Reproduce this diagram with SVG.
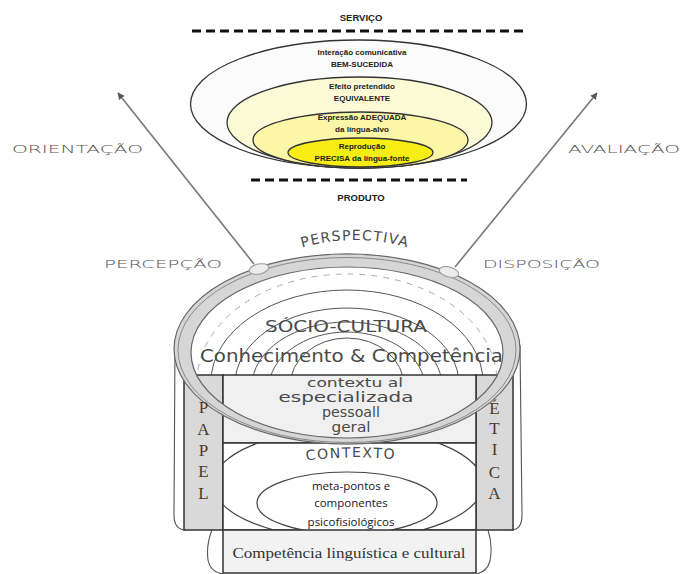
<svg xmlns="http://www.w3.org/2000/svg" width="681" height="574" viewBox="0 0 681 574">
  <defs>
    <style>
      .lvl { stroke: #333; stroke-width: 1.3; }
      .tiny { font-family: "Liberation Sans", Arial, sans-serif; font-size: 8px; font-weight: bold; fill: #222; text-anchor: middle; }
      .cap { font-family: "Liberation Sans", Arial, sans-serif; font-size: 9.5px; font-weight: bold; fill: #222; text-anchor: middle; }
      .dash { stroke: #111; stroke-width: 3; stroke-dasharray: 9 5; fill: none; }
      .side { font-family: "DejaVu Sans", "Liberation Sans", sans-serif; font-size: 11px; font-weight: 300; fill: #555; }
      .geo { font-family: "DejaVu Sans", "Liberation Sans", sans-serif; fill: #4a4a4a; text-anchor: middle; }
      .col { font-family: "Liberation Serif", "Times New Roman", serif; font-size: 17px; fill: #4a3a2c; text-anchor: middle; }
      .calib { font-family: "Open Sans", "Liberation Sans", sans-serif; font-size: 11.5px; fill: #111827; text-anchor: middle; }
      .ringline { fill: none; stroke: #555; stroke-width: 1; }
      .body { stroke: #333; stroke-width: 1.5; }
      .outline { fill: none; stroke: #555; stroke-width: 1.1; }
      .arrow { fill: none; stroke: #777; stroke-width: 1.6; marker-end: url(#head); }
    </style>
    <marker id="head" viewBox="0 0 10 10" refX="9" refY="5" markerWidth="7" markerHeight="7" orient="auto" markerUnits="userSpaceOnUse">
      <path d="M0,0 L10,5 L0,10 z" fill="#555"/>
    </marker>
    <clipPath id="lowerArea">
      <rect x="223" y="443" width="253" height="87"/>
    </clipPath>
    <path id="perspArc" d="M283,254 Q355,226 427,254"/>
    <path id="contextArc" d="M290,463 Q350,453 412,461"/>
  </defs>

  <rect width="681" height="574" fill="#fff"/>

  <!-- service / product levels -->
  <g id="levels">
    <text class="cap" x="361" y="20.5" font-size="9px">SERVIÇO</text>
    <line class="dash" x1="192" y1="31" x2="527" y2="31"/>
    <ellipse class="lvl" cx="358.5" cy="104" rx="168" ry="64" fill="#fbfbfb"/>
    <ellipse class="lvl" cx="359.5" cy="122.5" rx="132.5" ry="45.5" fill="#fdfbd6"/>
    <ellipse class="lvl" cx="360.5" cy="140" rx="107.5" ry="28" fill="#fbf6a8"/>
    <ellipse class="lvl" cx="360.5" cy="152.5" rx="72.5" ry="14.5" fill="#f6ee12"/>
    <text class="tiny" x="362" y="55" font-weight="normal">Interação comunicativa</text>
    <text class="tiny" x="362" y="66.5">BEM-SUCEDIDA</text>
    <text class="tiny" x="362" y="89" font-weight="normal">Efeito pretendido</text>
    <text class="tiny" x="362" y="101">EQUIVALENTE</text>
    <text class="tiny" x="362" y="120">Expressão ADEQUADA</text>
    <text class="tiny" x="362" y="131.5">da língua-alvo</text>
    <text class="tiny" x="362" y="149">Reprodução</text>
    <text class="tiny" x="362" y="160.5">PRECISA da língua-fonte</text>
    <line class="dash" x1="251" y1="180" x2="467" y2="180"/>
    <text class="cap" x="361" y="201">PRODUTO</text>
  </g>

  <!-- connectors -->
  <g id="connectors">
    <path class="arrow" d="M254,264 L118,93"/>
    <path class="arrow" d="M455,267 L597,93"/>
  </g>

  <!-- side labels -->
  <g id="labels">
    <text class="side" x="12" y="152.5" textLength="131" lengthAdjust="spacingAndGlyphs">ORIENTAÇÃO</text>
    <text class="side" x="568" y="152.5" textLength="112" lengthAdjust="spacingAndGlyphs">AVALIAÇÃO</text>
    <text class="side" x="104" y="267.5" textLength="118" lengthAdjust="spacingAndGlyphs">PERCEPÇÃO</text>
    <text class="side" x="483" y="267.5" textLength="117" lengthAdjust="spacingAndGlyphs">DISPOSIÇÃO</text>
  </g>

  <!-- cylinder back outlines -->
  <g id="cylinder-outline">
    <path class="outline" d="M175,345 L174,515 Q174,530 186,530"/>
    <path class="outline" d="M520,345 L522,515 Q522,530 511,530"/>
    <path class="outline" d="M212,530 Q206,545 208,560 Q210,572 223,574"/>
    <path class="outline" d="M488,530 Q493,545 490,561 Q487,572 476,574"/>
  </g>

  <!-- socio-cultural rings inside the rim -->
  <g id="rings">
    <ellipse cx="347" cy="382" rx="150" ry="108" fill="none" stroke="#aaa" stroke-width="1" stroke-dasharray="6 6"/>
    <ellipse class="ringline" cx="347" cy="382" rx="136" ry="92"/>
    <ellipse class="ringline" cx="347" cy="384" rx="112" ry="76"/>
    <ellipse class="ringline" cx="347" cy="386" rx="95" ry="64"/>
    <ellipse class="ringline" cx="347" cy="388" rx="78" ry="56"/>
    <ellipse class="ringline" cx="347" cy="386" rx="57" ry="48"/>
  </g>

  <!-- cylinder body -->
  <g id="papel">
    <rect class="body" x="184" y="375" width="39" height="155" fill="#d9d9d9"/>
  </g>
  <g id="etica">
    <rect class="body" x="476" y="375" width="37" height="155" fill="#d9d9d9"/>
  </g>
  <g id="contextual">
    <rect class="body" x="223" y="375" width="253" height="68" fill="#f0f0f0"/>
  </g>
  <g id="contexto">
    <rect class="body" x="223" y="443" width="253" height="87" fill="#fff"/>
    <ellipse clip-path="url(#lowerArea)" cx="348" cy="484" rx="135" ry="55" fill="none" stroke="#444" stroke-width="1.2"/>
    <text class="geo" font-size="14" letter-spacing="1.5">
      <textPath href="#contextArc" startOffset="50%" text-anchor="middle">CONTEXTO</textPath>
    </text>
  </g>
  <g id="meta">
    <ellipse clip-path="url(#lowerArea)" cx="347" cy="503" rx="90" ry="31" fill="#fff" stroke="#444" stroke-width="1.2"/>
    <text class="calib" x="351" y="490">meta-pontos e</text>
    <text class="calib" x="351" y="507">componentes</text>
    <text class="calib" x="351" y="525.5">psicofisiológicos</text>
  </g>
  <g id="competencia">
    <rect class="body" x="223" y="530" width="253" height="43" fill="#f2f2f2"/>
    <text x="349" y="558" font-family="Liberation Serif, Times New Roman, serif" font-size="15.5" fill="#333" text-anchor="middle" textLength="233" lengthAdjust="spacingAndGlyphs">Competência linguística e cultural</text>
  </g>

  <!-- rim of the cylinder -->
  <g id="rim">
    <path fill="#d6d6d6" fill-rule="evenodd" stroke="#666" stroke-width="1.2"
      d="M174,349 A173,95 0 1,0 520,349 A173,95 0 1,0 174,349 Z M191,352.5 A156,85.5 0 1,0 503,352.5 A156,85.5 0 1,0 191,352.5 Z"/>
    <ellipse cx="347" cy="350" rx="169" ry="92.5" fill="none" stroke="#888" stroke-width="1"/>
    <ellipse cx="259" cy="269" rx="10" ry="5" transform="rotate(-12 259 269)" fill="#ececec" stroke="#999" stroke-width="1"/>
    <ellipse cx="449" cy="272" rx="10" ry="5" transform="rotate(14 449 272)" fill="#ececec" stroke="#999" stroke-width="1"/>
  </g>

  <!-- rim texts -->
  <g id="perspectiva">
    <text class="geo" font-size="14" fill="#555" letter-spacing="1.2">
      <textPath href="#perspArc" startOffset="50%" text-anchor="middle">PERSPECTIVA</textPath>
    </text>
  </g>
  <g id="socio">
    <text class="geo" x="346" y="332" font-size="15" textLength="162" lengthAdjust="spacingAndGlyphs">SÓCIO-CULTURA</text>
    <text class="geo" x="351.5" y="362" font-size="17.5" textLength="303" lengthAdjust="spacingAndGlyphs">Conhecimento &amp; Competência</text>
  </g>

  <!-- box texts -->
  <g id="contextual-text">
    <text class="geo" x="355" y="387" font-size="12.5" textLength="96" lengthAdjust="spacingAndGlyphs">contextu al</text>
    <text class="geo" x="346" y="402" font-size="13.5" textLength="135" lengthAdjust="spacingAndGlyphs">especializada</text>
    <text class="geo" x="351" y="417" font-size="13.5" textLength="58" lengthAdjust="spacingAndGlyphs">pessoall</text>
    <text class="geo" x="351" y="432" font-size="13.5" textLength="39" lengthAdjust="spacingAndGlyphs">geral</text>
  </g>
  <g id="papel-text">
    <text class="col" x="203.5" y="413">P</text>
    <text class="col" x="203.5" y="435">A</text>
    <text class="col" x="203.5" y="456">P</text>
    <text class="col" x="203.5" y="477">E</text>
    <text class="col" x="203.5" y="499">L</text>
  </g>
  <g id="etica-text">
    <text class="col" x="494.5" y="414">É</text>
    <text class="col" x="494.5" y="434">T</text>
    <text class="col" x="494.5" y="455">I</text>
    <text class="col" x="494.5" y="478">C</text>
    <text class="col" x="494.5" y="499">A</text>
  </g>
</svg>
